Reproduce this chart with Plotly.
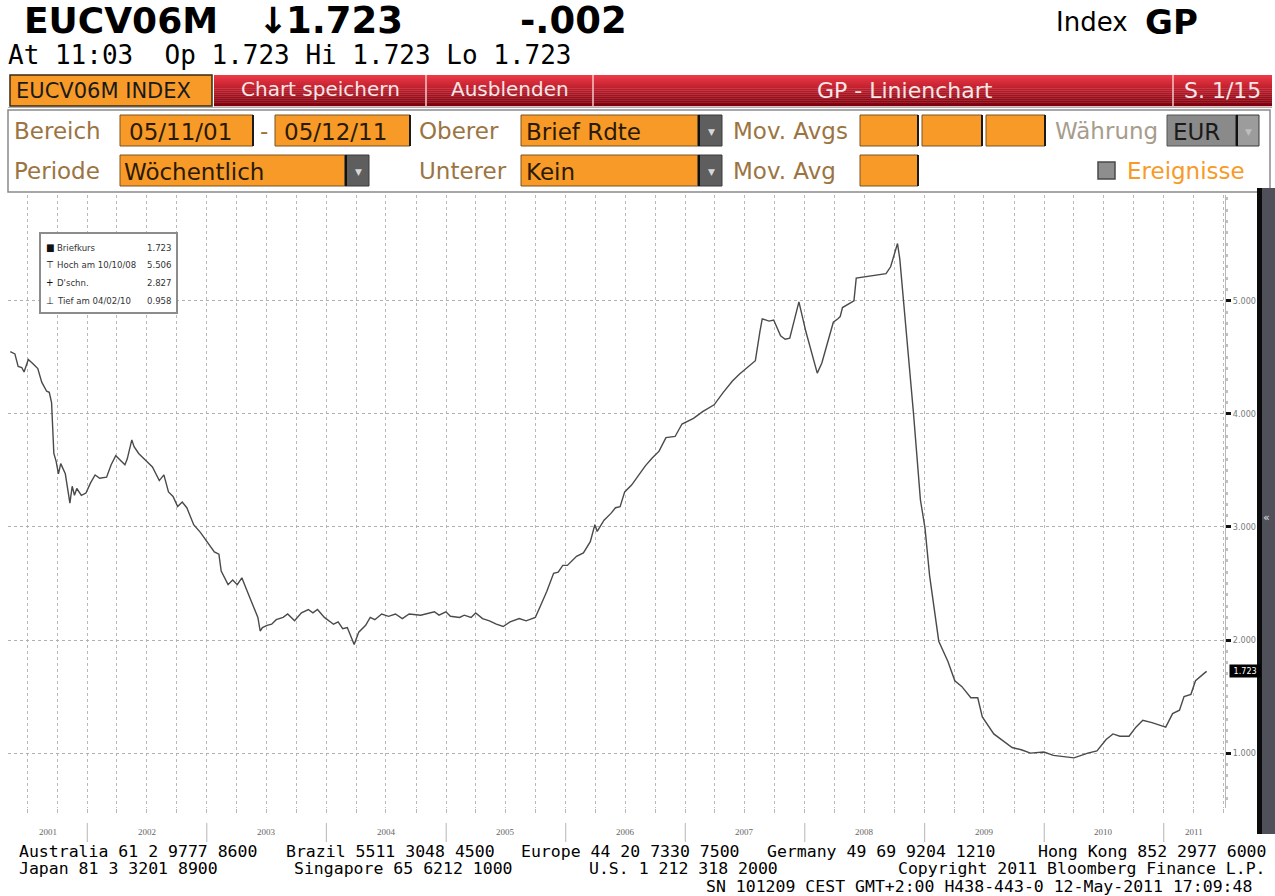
import plotly.graph_objects as go
from datetime import datetime

# ---------------- data ----------------
dates = [
    "2001-05-11", "2001-05-25", "2001-06-04", "2001-06-15", "2001-06-22", "2001-07-05", "2001-07-20",
    "2001-08-03", "2001-08-15", "2001-08-30", "2001-09-07", "2001-09-14", "2001-09-21", "2001-09-28",
    "2001-10-05", "2001-10-12", "2001-10-26", "2001-11-02", "2001-11-09", "2001-11-16", "2001-11-23",
    "2001-11-30", "2001-12-14", "2001-12-28", "2002-01-11", "2002-01-25", "2002-02-08", "2002-03-01",
    "2002-03-15", "2002-03-29", "2002-04-12", "2002-04-26", "2002-05-03", "2002-05-17", "2002-05-24",
    "2002-06-07", "2002-06-28", "2002-07-19", "2002-08-09", "2002-08-23", "2002-09-06", "2002-09-20",
    "2002-10-04", "2002-10-18", "2002-11-01", "2002-11-22", "2002-12-13", "2003-01-03", "2003-01-24",
    "2003-02-07", "2003-02-14", "2003-03-07", "2003-03-21", "2003-04-04", "2003-04-18", "2003-05-02",
    "2003-05-23", "2003-06-06", "2003-06-13", "2003-06-20", "2003-07-04", "2003-07-18", "2003-08-01",
    "2003-08-22", "2003-09-05", "2003-09-26", "2003-10-17", "2003-11-07", "2003-11-21", "2003-12-05",
    "2003-12-26", "2004-01-23", "2004-02-06", "2004-02-20", "2004-03-05", "2004-03-26", "2004-04-09",
    "2004-04-30", "2004-05-14", "2004-05-28", "2004-06-18", "2004-07-09", "2004-07-30", "2004-08-20",
    "2004-09-10", "2004-10-15", "2004-11-26", "2004-12-10", "2004-12-31", "2005-01-14", "2005-02-11",
    "2005-02-25", "2005-03-18", "2005-04-01", "2005-04-22", "2005-05-13", "2005-06-03", "2005-06-24",
    "2005-07-15", "2005-08-12", "2005-09-02", "2005-09-30", "2005-10-14", "2005-11-04", "2005-11-25",
    "2005-12-09", "2005-12-23", "2006-01-06", "2006-02-03", "2006-02-24", "2006-03-17", "2006-03-31",
    "2006-04-07", "2006-04-28", "2006-05-19", "2006-06-02", "2006-06-16", "2006-06-30", "2006-07-21",
    "2006-08-18", "2006-09-01", "2006-09-22", "2006-10-13", "2006-11-03", "2006-12-01", "2006-12-22",
    "2007-01-26", "2007-02-23", "2007-03-30", "2007-04-27", "2007-05-25", "2007-06-15", "2007-07-20",
    "2007-08-03", "2007-08-17", "2007-08-24", "2007-09-14", "2007-09-28", "2007-10-19", "2007-11-02",
    "2007-11-16", "2007-12-14", "2008-01-04", "2008-01-25", "2008-02-08", "2008-02-22", "2008-03-14",
    "2008-03-28", "2008-04-11", "2008-04-18", "2008-04-25", "2008-05-30", "2008-06-06", "2008-06-27",
    "2008-07-25", "2008-09-05", "2008-09-19", "2008-10-10", "2008-10-17", "2008-11-07", "2008-11-28",
    "2008-12-19", "2009-01-02", "2009-01-16", "2009-01-30", "2009-02-13", "2009-03-13", "2009-04-03",
    "2009-04-24", "2009-05-22", "2009-06-12", "2009-06-26", "2009-07-31", "2009-08-28", "2009-09-25",
    "2009-10-23", "2009-11-20", "2009-12-31", "2010-01-29", "2010-04-02", "2010-05-14", "2010-06-11",
    "2010-07-09", "2010-07-30", "2010-08-20", "2010-09-17", "2010-10-08", "2010-10-29", "2010-11-26",
    "2011-01-07", "2011-01-28", "2011-02-18", "2011-03-04", "2011-03-25", "2011-04-08", "2011-05-06",
    "2011-05-12",
]
values = [
    4.55, 4.53, 4.42, 4.41, 4.37, 4.48, 4.44,
    4.40, 4.28, 4.20, 4.19, 4.10, 3.65, 3.58,
    3.47, 3.56, 3.47, 3.34, 3.21, 3.36, 3.28,
    3.34, 3.28, 3.30, 3.39, 3.46, 3.43, 3.44,
    3.55, 3.63, 3.59, 3.55, 3.60, 3.77, 3.71,
    3.65, 3.59, 3.53, 3.41, 3.46, 3.31, 3.27,
    3.18, 3.22, 3.17, 3.02, 2.95, 2.87, 2.78,
    2.76, 2.61, 2.49, 2.53, 2.49, 2.55, 2.45,
    2.29, 2.20, 2.08, 2.11, 2.13, 2.14, 2.18,
    2.20, 2.23, 2.17, 2.24, 2.27, 2.24, 2.27,
    2.20, 2.14, 2.16, 2.10, 2.11, 1.96, 2.07,
    2.13, 2.20, 2.18, 2.23, 2.21, 2.23, 2.19,
    2.23, 2.22, 2.25, 2.22, 2.25, 2.21, 2.20,
    2.22, 2.20, 2.24, 2.19, 2.17, 2.14, 2.12,
    2.16, 2.19, 2.17, 2.20, 2.29, 2.43, 2.59,
    2.60, 2.66, 2.66, 2.74, 2.77, 2.87, 3.02,
    2.96, 3.06, 3.12, 3.17, 3.18, 3.31, 3.37,
    3.48, 3.54, 3.61, 3.67, 3.79, 3.80, 3.91,
    3.96, 4.02, 4.08, 4.19, 4.29, 4.35, 4.44,
    4.47, 4.73, 4.84, 4.82, 4.83, 4.69, 4.66,
    4.67, 4.99, 4.73, 4.50, 4.36, 4.45, 4.67,
    4.81, 4.84, 4.86, 4.94, 5.00, 5.20, 5.21,
    5.22, 5.24, 5.30, 5.506, 5.37, 4.70, 4.00,
    3.24, 2.99, 2.57, 2.26, 1.99, 1.81, 1.64,
    1.59, 1.49, 1.49, 1.32, 1.17, 1.11, 1.05,
    1.03, 1.00, 1.01, 0.98, 0.958, 1.00, 1.02,
    1.12, 1.17, 1.15, 1.15, 1.23, 1.29, 1.27,
    1.23, 1.35, 1.38, 1.50, 1.52, 1.64, 1.71,
    1.723,
]
years = [2001, 2002, 2003, 2004, 2005, 2006, 2007, 2008, 2009, 2010, 2011]
y_tick_values = [1, 2, 3, 4, 5]
y_tick_labels = ["1.000", "2.000", "3.000", "4.000", "5.000"]
x_range = ["2001-05-04", "2011-07-07"]
y_range = [0.515, 5.935]
average_text = "2.827"

# ---------------- page geometry helpers ----------------
W, H = 1275, 896
ML, MR, MT, MB = 8, 50, 195, 88
PW, PH = W - ML - MR, H - MT - MB


def px(x):
    return (x - ML) / PW


def py(y):
    return (H - MB - y) / PH


shapes = []
annotations = []


def rect(x0, y0, x1, y1, fill, line=None, lw=0):
    shapes.append(dict(type="rect", xref="paper", yref="paper",
                       x0=px(x0), x1=px(x1), y0=py(y1), y1=py(y0),
                       fillcolor=fill, line=dict(color=line or fill, width=lw)))


def hline(x0, x1, y, color, lw=1):
    shapes.append(dict(type="line", xref="paper", yref="paper",
                       x0=px(x0), x1=px(x1), y0=py(y), y1=py(y),
                       line=dict(color=color, width=lw)))


def vline(x, y0, y1, color, lw=1):
    shapes.append(dict(type="line", xref="paper", yref="paper",
                       x0=px(x), x1=px(x), y0=py(y0), y1=py(y1),
                       line=dict(color=color, width=lw)))


def text(x, y, s, size, color="#000", family="DejaVu Sans", anchor="left", **kw):
    annotations.append(dict(xref="paper", yref="paper", x=px(x), y=py(y), text=s,
                            showarrow=False, xanchor=anchor, yanchor="middle",
                            font=dict(size=size, color=color, family=family), **kw))


ORANGE = "#F89A28"
TAN = "#9B7442"
MONO = "DejaVu Sans Mono"

# ---------------- header ----------------
text(22, 21, "<b>EUCV06M</b>", 36, "#000", "DejaVu Sans")
text(256, 21, "<b>↓</b>", 36, "#000", "DejaVu Sans")
text(284, 21, "<b>1.723</b>", 37, "#000", "DejaVu Sans")
text(518, 21, "<b>-.002</b>", 37, "#000", "DejaVu Sans")
text(1054, 22, "Index", 26, "#000", "DejaVu Sans")
text(1143, 22, "<b>GP</b>", 34, "#000", "DejaVu Sans")
text(6, 55, "At 11:03  Op 1.723 Hi 1.723 Lo 1.723", 26, "#000", MONO)

# ---------------- red toolbar ----------------
top_c = (236, 56, 70)
bot_c = (128, 0, 14)
n = 16
for i in range(n):
    t = i / (n - 1)
    c = tuple(int(top_c[k] + (bot_c[k] - top_c[k]) * t) for k in range(3))
    y0 = 75 + i * 31 / n
    rect(214, y0, 1272, y0 + 31 / n + 0.3, "rgb(%d,%d,%d)" % c)
for xs in (426, 593, 1173):
    vline(xs, 75, 106, "#f2c8c8", 1.5)
rect(10, 75, 212, 106, ORANGE, "#3a2a10", 1.5)
text(14, 91, "EUCV06M INDEX", 21, "#1a1a1a", "DejaVu Sans")
text(320, 89, "Chart speichern", 20, "#f6e6e6", "DejaVu Sans", anchor="center")
text(510, 89, "Ausblenden", 20, "#f6e6e6", "DejaVu Sans", anchor="center")
text(905, 91, "GP - Linienchart", 22, "#f6e6e6", "DejaVu Sans", anchor="center")
text(1222, 91, "S. 1/15", 22, "#f6e6e6", "DejaVu Sans", anchor="center")
hline(8, 1272, 107.5, "#b0b0b0", 1)

# ---------------- control panel ----------------
rect(8, 110, 1270, 192, "#ffffff", "#8a8a8a", 1.5)


def obox(x0, x1, y0, y1, label=None, tx=None, dark_right=True):
    rect(x0, y0, x1, y1, ORANGE, "#7a5520", 1)
    if dark_right:
        vline(x1, y0, y1, "#1a1a1a", 2)
    if label:
        text(tx if tx else x0 + 4, (y0 + y1) / 2 + 1, label, 23, "#2a1a05", "DejaVu Sans")


def dropdown(x0, x1, y0, y1, fill="#5e5e5e", tri="#d8d8d8"):
    rect(x0, y0, x1, y1, fill, "#3a3a3a", 1)
    vline(x0 + 1, y0, y1, "#111", 2)
    text((x0 + x1) / 2 + 1, (y0 + y1) / 2 + 1, "▼", 9, tri, "DejaVu Sans", anchor="center")


r1a, r1b = 115, 146
r2a, r2b = 155, 186
text(12, 131, "Bereich", 23, TAN)
text(12, 171, "Periode", 23, TAN)
obox(120, 253, r1a, r1b, "05/11/01", 127)
text(258, 131, "-", 23, TAN)
obox(275, 410, r1a, r1b, "05/12/11", 282)
text(417, 131, "Oberer", 23, TAN)
text(417, 171, "Unterer", 23, TAN)
obox(521, 698, r1a, r1b, "Brief Rdte", 524, dark_right=False)
dropdown(698, 722, r1a, r1b)
obox(120, 345, r2a, r2b, "Wöchentlich", 122, dark_right=False)
dropdown(345, 369, r2a, r2b)
obox(521, 698, r2a, r2b, "Kein", 524, dark_right=False)
dropdown(698, 722, r2a, r2b)
text(731, 131, "Mov. Avgs", 23, TAN)
text(731, 171, "Mov. Avg", 23, TAN)
for a, b in ((860, 918), (922, 982), (986, 1045)):
    obox(a, b, r1a, r1b)
obox(860, 918, r2a, r2b)
text(1053, 131, "Währung", 23, "#a89c8c")
rect(1167, r1a, 1236, r1b, "#8a8a8a", "#555", 1)
text(1171, 132, "EUR", 23, "#1a1a1a")
dropdown(1236, 1259, r1a, r1b, fill="#9c9c9c", tri="#bdbdbd")
rect(1098, 162, 1115, 179, "#8e8e8e", "#4a4a4a", 1.5)
text(1125, 171, "Ereignisse", 23, ORANGE)

# ---------------- right dark strip ----------------
rect(1257, 188, 1262, 834, "#0c0c0c")
rect(1262, 188, 1275, 834, "#50505a")
text(1267, 517, "«", 11, "#e0e0e0", "DejaVu Sans", anchor="center")

# ---------------- legend box ----------------
rect(40, 233, 177, 313, "#ffffff", "#8c8c8c", 2)
hi_i = values.index(max(values))
lo_i = values.index(min(values))


def mdY(d):
    return datetime.strptime(d, "%Y-%m-%d").strftime("%m/%d/%y")


leg_rows = [
    ("■", "Briefkurs", "%.3f" % values[-1]),
    ("⊤", "Hoch am " + mdY(dates[hi_i]), "%.3f" % values[hi_i]),
    ("+", "D'schn.", average_text),
    ("⊥", "Tief am " + mdY(dates[lo_i]), "%.3f" % values[lo_i]),
]
LF = "DejaVu Sans Condensed, DejaVu Sans"
for k, (ic, lab, val) in enumerate(leg_rows):
    yy = 247 + k * 17.7
    text(44, yy, ic, 10, "#111", LF)
    text(55, yy, lab, 9.5, "#333", LF)
    text(173, yy, val, 9.5, "#333", LF, anchor="right")

# ---------------- bottom: years & footer ----------------
x0d = datetime.strptime(x_range[0], "%Y-%m-%d")
x1d = datetime.strptime(x_range[1], "%Y-%m-%d")
for yr in years:
    a = max(datetime(yr, 1, 1), x0d)
    b = min(datetime(yr + 1, 1, 1), x1d)
    mid = a + (b - a) / 2
    annotations.append(dict(xref="x", yref="paper", x=mid.strftime("%Y-%m-%d"), y=py(832),
                            text=str(yr), showarrow=False, xanchor="center", yanchor="middle",
                            font=dict(size=9, color="#666", family="Liberation Serif")))
    if yr > years[0]:
        shapes.append(dict(type="line", xref="x", yref="paper",
                           x0="%d-01-01" % yr, x1="%d-01-01" % yr, y0=py(842), y1=py(823),
                           line=dict(color="#b5b5b5", width=1)))

FS = 16.5
footer1 = [(17, "Australia 61 2 9777 8600", "left"), (284, "Brazil 5511 3048 4500", "left"),
           (519, "Europe 44 20 7330 7500", "left"), (765, "Germany 49 69 9204 1210", "left"),
           (1268, "Hong Kong 852 2977 6000", "right")]
for xx, s, anc in footer1:
    text(xx, 851, s, FS, "#000", MONO, anchor=anc)
footer2 = [(17, "Japan 81 3 3201 8900", "left"), (292, "Singapore 65 6212 1000", "left"),
           (587, "U.S. 1 212 318 2000", "left"),
           (1268, "Copyright 2011 Bloomberg Finance L.P.", "right")]
for xx, s, anc in footer2:
    text(xx, 868.5, s, FS, "#000", MONO, anchor=anc)
text(1254, 886, "SN 101209 CEST GMT+2:00 H438-443-0 12-May-2011 17:09:48", FS, "#000", MONO,
     anchor="right")

# ---------------- current price tag ----------------
annotations.append(dict(xref="paper", yref="y", x=px(1229), y=values[-1],
                        text=" %.3f " % values[-1], showarrow=False, xanchor="left",
                        yanchor="middle", bgcolor="#000", borderpad=1,
                        font=dict(size=9, color="#fff", family=LF)))

# ---------------- figure ----------------
fig = go.Figure()
fig.add_trace(go.Scatter(x=dates, y=values, mode="lines",
                         line=dict(color="#4a4a4a", width=1.4), hoverinfo="x+y"))

fig.update_layout(
    width=W, height=H, autosize=False,
    margin=dict(l=ML, r=MR, t=MT, b=MB, pad=0),
    paper_bgcolor="#ffffff", plot_bgcolor="#ffffff",
    showlegend=False,
    shapes=shapes, annotations=annotations,
    xaxis=dict(type="date", range=x_range, showticklabels=False,
               tick0="2001-01-01", dtick="M3",
               showgrid=True, gridcolor="#b8b8b8", griddash="dot", gridwidth=1,
               ticks="outside", ticklen=4, tickcolor="#b8b8b8",
               showline=False, zeroline=False, fixedrange=True),
    yaxis=dict(side="right", range=y_range, tickvals=y_tick_values, ticktext=y_tick_labels,
               tickfont=dict(size=9, color="#7a7a7a", family=LF),
               showgrid=True, gridcolor="#b0b0b0", griddash="dot", gridwidth=1,
               ticks="outside", ticklen=5, tickwidth=3, tickcolor="#111",
               minor=dict(dtick=0.1, ticks="outside", ticklen=2, tickcolor="#c0c0c0", showgrid=False),
               showline=True, linecolor="#b8b8b8", linewidth=1,
               zeroline=False, fixedrange=True),
)

fig.write_html("out.html", config={"displayModeBar": False},
               post_script="document.body.style.margin='0px';document.body.style.overflow='hidden';")
